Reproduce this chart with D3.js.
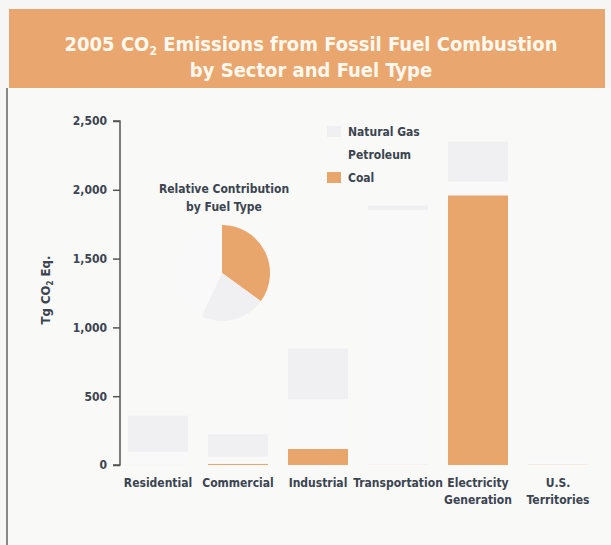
<!DOCTYPE html>
<html>
<head>
<meta charset="utf-8">
<script src="https://cdn.jsdelivr.net/npm/d3@7"></script>
<style>
  body { margin: 0; background: #f6f6f4; }
  svg text { font-family: "Liberation Sans Narrow", "DejaVu Sans Condensed", "Roboto Condensed", sans-serif; font-stretch: condensed; font-weight: bold; }
</style>
</head>
<body>
<svg id="chart"></svg>
<script>
// categories and the label lines under each bar
const sectors = ["Residential", "Commercial", "Industrial", "Transportation", "Electricity Generation", "U.S. Territories"]
const sectorLines = [["Residential"], ["Commercial"], ["Industrial"], ["Transportation"], ["Electricity", "Generation"], ["U.S.", "Territories"]]

// Tg CO2 Eq. by fuel
const coal = [1, 9, 117, 2, 1960, 3]
const petroleum = [95, 51, 360, 1850, 100, 50]
const naturalGas = [262, 163, 370, 33, 290, 1]

const fuels = ["Coal", "Petroleum", "Natural Gas"]
const legendOrder = ["Natural Gas", "Petroleum", "Coal"]
const yTicks = [0, 500, 1000, 1500, 2000, 2500]

// relative contribution pie (percent)
const pieFuels = ["Coal", "Natural Gas", "Petroleum"]
const pieShares = [35, 22, 43]

const width = 611
const height = 545
const inkColor = "#3b4450"

const svg = d3.select("#chart").attr("width", width).attr("height", height)

// panel + banner
svg.append("rect").attr("x", 7).attr("y", 88).attr("width", 604).attr("height", 457).attr("fill", "#f9f9f8")
svg.append("line").attr("x1", 7).attr("x2", 7).attr("y1", 88).attr("y2", 545)
  .attr("stroke", "#8a8a8a").attr("stroke-width", 2)
svg.append("rect").attr("x", 9).attr("y", 9).attr("width", 596).attr("height", 79).attr("fill", "#e9a76f")

let t1 = svg.append("text").attr("x", 311).attr("y", 51).attr("text-anchor", "middle")
  .attr("fill", "#fff8ee").style("font-size", "20px")
t1.append("tspan").text("2005 CO")
t1.append("tspan").text("2").style("font-size", "12px").attr("dy", 4)
t1.append("tspan").text(" Emissions from Fossil Fuel Combustion").attr("dy", -4)
svg.append("text").attr("x", 311).attr("y", 77).attr("text-anchor", "middle")
  .attr("fill", "#fff8ee").style("font-size", "20px").text("by Sector and Fuel Type")

// scales
const xScale = d3.scaleBand().domain(sectors).range([118, 598]).paddingInner(0.25).paddingOuter(0.125)
const yScale = d3.scaleLinear().domain([0, 2500]).range([465, 121])
const color = d3.scaleOrdinal().domain(fuels).range(["#e8a56c", "#f9f9f9", "#f0f0f3"])

// stacked bars
const table = sectors.map((s, i) => ({sector: s, "Coal": coal[i], "Petroleum": petroleum[i], "Natural Gas": naturalGas[i]}))
const stacked = d3.stack().keys(fuels)(table)

svg.append("g").selectAll("g")
  .data(stacked)
  .join("g")
  .attr("fill", d => color(d.key))
  .selectAll("rect")
  .data(d => d)
  .join("rect")
  .attr("x", d => xScale(d.data.sector))
  .attr("width", xScale.bandwidth())
  .attr("y", d => yScale(d[1]))
  .attr("height", d => yScale(d[0]) - yScale(d[1]))

// y axis
const yAxis = d3.axisLeft(yScale).tickValues(yTicks).tickSize(7).tickPadding(6).tickFormat(d3.format(","))
const yG = svg.append("g").attr("transform", "translate(120,0)").call(yAxis)
yG.select(".domain").attr("stroke", "#555").attr("stroke-width", 1.5).attr("d", "M-7,121H0V465H-7")
yG.selectAll(".tick line").attr("stroke", "#555").attr("stroke-width", 1.5)
yG.selectAll(".tick text").attr("fill", inkColor).style("font-size", "12px")
  .style("font-family", "\"Liberation Sans Narrow\", \"DejaVu Sans Condensed\", sans-serif").style("font-weight", "bold")

let yt = svg.append("text").attr("transform", "translate(50,290) rotate(-90)").attr("text-anchor", "middle")
  .attr("fill", inkColor).style("font-size", "13px")
yt.append("tspan").text("Tg CO")
yt.append("tspan").text("2").style("font-size", "8px").attr("dy", 3)
yt.append("tspan").text(" Eq.").attr("dy", -3)

// category labels
svg.append("g").selectAll("text")
  .data(sectors)
  .join("text")
  .attr("x", d => xScale(d) + xScale.bandwidth() / 2)
  .attr("y", 487)
  .attr("text-anchor", "middle")
  .attr("fill", inkColor)
  .style("font-size", "12px")
  .each(function(d, i) {
    d3.select(this).selectAll("tspan")
      .data(sectorLines[i])
      .join("tspan")
      .attr("x", xScale(d) + xScale.bandwidth() / 2)
      .attr("dy", (l, j) => j === 0 ? 0 : 17)
      .text(l => l)
  })

// legend
const legend = svg.append("g").selectAll("g")
  .data(legendOrder)
  .join("g")
  .attr("transform", (d, i) => `translate(327,${126 + i * 23})`)
legend.append("rect").attr("width", 14).attr("height", 11).attr("y", 0).attr("fill", d => color(d))
legend.append("text").attr("x", 21).attr("y", 10).attr("fill", inkColor).style("font-size", "12px").text(d => d)

// relative contribution pie
svg.append("text").attr("x", 224).attr("y", 193).attr("text-anchor", "middle").attr("fill", inkColor)
  .style("font-size", "12px").text("Relative Contribution")
svg.append("text").attr("x", 224).attr("y", 211).attr("text-anchor", "middle").attr("fill", inkColor)
  .style("font-size", "12px").text("by Fuel Type")

const pie = d3.pie().sort(null).value(d => d)
const arc = d3.arc().innerRadius(0).outerRadius(48)
svg.append("g").attr("transform", "translate(222,273)")
  .selectAll("path")
  .data(pie(pieShares))
  .join("path")
  .attr("d", arc)
  .attr("fill", (d, i) => color(pieFuels[i]))
</script>
</body>
</html>
